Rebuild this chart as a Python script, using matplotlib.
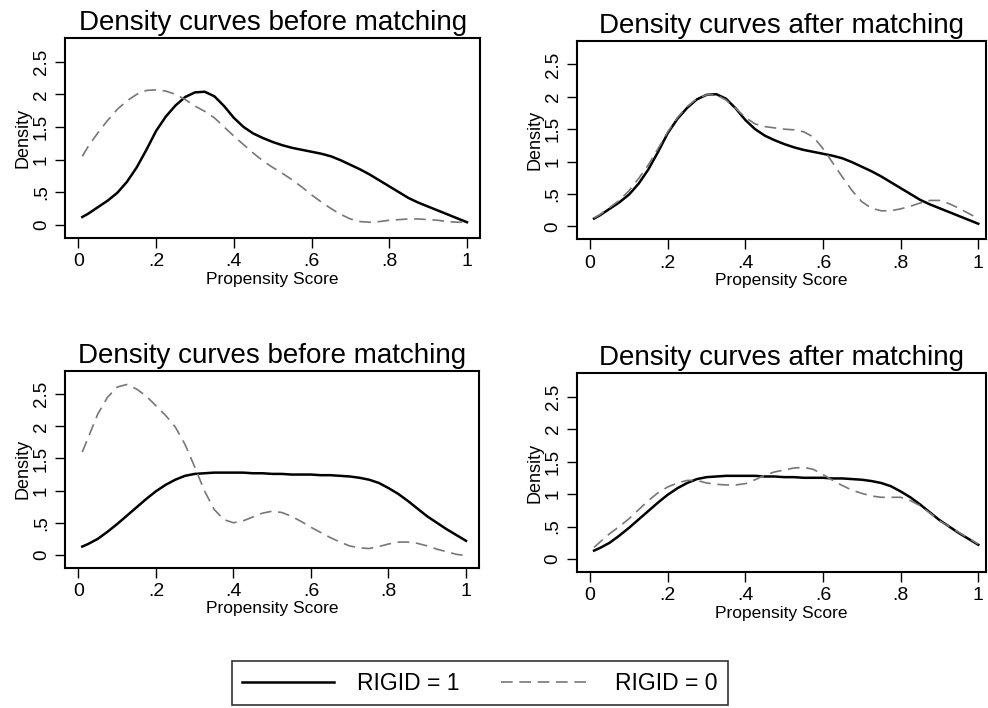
import matplotlib
matplotlib.use("Agg")
from matplotlib import pyplot as plt

plt.rcParams['font.family'] = ['Liberation Sans', 'DejaVu Sans']

# Propensity score grid
score = [0.01, 0.025, 0.05, 0.075, 0.10, 0.125, 0.15, 0.175, 0.20, 0.225,
         0.25, 0.275, 0.30, 0.325, 0.35, 0.375, 0.40, 0.425, 0.45, 0.475,
         0.50, 0.525, 0.55, 0.575, 0.60, 0.625, 0.65, 0.675, 0.70, 0.725,
         0.75, 0.775, 0.80, 0.825, 0.85, 0.875, 0.90, 0.925, 0.95, 0.975, 1.00]

# Top row: RIGID = 1 (solid) and RIGID = 0 (dashed)
top_rigid1 = [0.12, 0.17, 0.27, 0.37, 0.49, 0.66, 0.88, 1.15, 1.44, 1.66,
              1.83, 1.96, 2.03, 2.04, 1.97, 1.82, 1.64, 1.50, 1.40, 1.33,
              1.27, 1.22, 1.18, 1.15, 1.12, 1.09, 1.05, 0.99, 0.92, 0.85,
              0.77, 0.68, 0.59, 0.50, 0.41, 0.34, 0.28, 0.22, 0.16, 0.10, 0.04]
top_before0 = [1.05, 1.20, 1.41, 1.60, 1.77, 1.90, 2.00, 2.06, 2.07, 2.05,
               2.00, 1.92, 1.82, 1.74, 1.64, 1.50, 1.36, 1.23, 1.10, 0.98,
               0.88, 0.79, 0.69, 0.58, 0.46, 0.35, 0.25, 0.16, 0.09, 0.05,
               0.04, 0.05, 0.07, 0.08, 0.09, 0.09, 0.08, 0.07, 0.05, 0.04, 0.04]
top_after0 = [0.13, 0.18, 0.29, 0.40, 0.55, 0.74, 0.95, 1.20, 1.46, 1.68,
              1.85, 1.97, 2.03, 2.03, 1.95, 1.82, 1.68, 1.58, 1.54, 1.52,
              1.50, 1.49, 1.46, 1.38, 1.20, 0.98, 0.76, 0.55, 0.38, 0.28,
              0.24, 0.24, 0.27, 0.31, 0.36, 0.40, 0.40, 0.35, 0.28, 0.20, 0.12]

# Bottom row
bot_rigid1 = [0.13, 0.17, 0.25, 0.36, 0.48, 0.61, 0.74, 0.87, 0.99, 1.09,
              1.17, 1.23, 1.26, 1.27, 1.28, 1.28, 1.28, 1.28, 1.27, 1.27,
              1.26, 1.26, 1.25, 1.25, 1.25, 1.24, 1.24, 1.23, 1.22, 1.20,
              1.17, 1.12, 1.04, 0.95, 0.84, 0.72, 0.60, 0.50, 0.40, 0.31, 0.22]
bot_before0 = [1.60, 1.82, 2.19, 2.45, 2.61, 2.65, 2.58, 2.47, 2.32, 2.17,
               1.99, 1.72, 1.37, 1.00, 0.71, 0.55, 0.50, 0.53, 0.59, 0.65,
               0.68, 0.66, 0.60, 0.52, 0.43, 0.35, 0.27, 0.20, 0.14, 0.11,
               0.10, 0.13, 0.17, 0.20, 0.20, 0.18, 0.14, 0.09, 0.05, 0.01, -0.01]
bot_after0 = [0.18, 0.26, 0.39, 0.50, 0.62, 0.76, 0.90, 1.02, 1.11, 1.17,
              1.21, 1.21, 1.17, 1.15, 1.14, 1.14, 1.16, 1.22, 1.29, 1.34,
              1.37, 1.40, 1.41, 1.38, 1.30, 1.21, 1.13, 1.06, 1.01, 0.97,
              0.95, 0.95, 0.95, 0.90, 0.82, 0.71, 0.59, 0.50, 0.41, 0.32, 0.23]

x_ticks = [0, 0.2, 0.4, 0.6, 0.8, 1.0]
x_labels = ['0', '.2', '.4', '.6', '.8', '1']
y_ticks = [0, 0.5, 1, 1.5, 2, 2.5]
y_labels = ['0', '.5', '1', '1.5', '2', '2.5']

fig = plt.figure(figsize=(9.88, 7.08), dpi=100)

panels = [
    ([0.066, 0.664, 0.420, 0.282], "Density curves before matching",
     top_rigid1, top_before0, 1.034),
    ([0.584, 0.662, 0.414, 0.280], "Density curves after matching",
     top_rigid1, top_after0, 1.02),
    ([0.066, 0.198, 0.419, 0.278], "Density curves before matching",
     bot_rigid1, bot_before0, 1.034),
    ([0.584, 0.192, 0.414, 0.281], "Density curves after matching",
     bot_rigid1, bot_after0, 1.02),
]

for rect, title, solid, dashed, xmax in panels:
    ax = fig.add_axes(rect)
    ax.plot(score, solid, color='black', lw=1.8, label='RIGID = 1')
    ax.plot(score, dashed, color='#777777', lw=1.2, dashes=(7, 4),
            label='RIGID = 0')
    ax.set_xlim(-0.034, xmax)
    ax.set_ylim(-0.2, 2.86)
    ax.set_xticks(x_ticks)
    ax.set_xticklabels(x_labels, fontsize=14)
    ax.set_yticks(y_ticks)
    ax.set_yticklabels(y_labels, fontsize=13.5, rotation=90, va='center')
    ax.tick_params(direction='out', length=7, width=1, pad=4)
    ax.set_xlabel('Propensity Score', fontsize=12.5, labelpad=1)
    ax.set_ylabel('Density', fontsize=13, labelpad=1)
    ax.set_title(title, fontsize=20, pad=6)
    for sp in ax.spines.values():
        sp.set_linewidth(1.5)

handles, labels = ax.get_legend_handles_labels()
fig.legend(handles, labels, loc='center', bbox_to_anchor=(0.486, 0.035),
           ncol=2, fontsize=16.5, handlelength=4, handletextpad=1.0,
           columnspacing=1.8, frameon=True, fancybox=False,
           edgecolor='black', borderpad=0.45)
leg = fig.legends[0]
leg.get_frame().set_linewidth(1.2)

fig.savefig('out.png', dpi=100)
